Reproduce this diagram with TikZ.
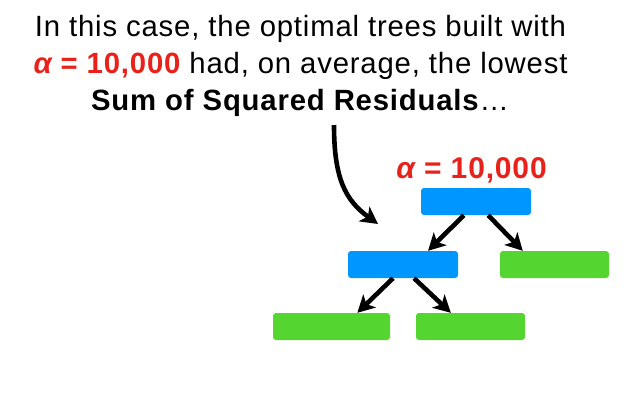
\documentclass[tikz,border=0pt]{standalone}
\usepackage{fontspec}
\setmainfont{Liberation Sans}[LetterSpace=2.8]
\usetikzlibrary{arrows.meta,calc}
\definecolor{myred}{HTML}{E8221A}
\definecolor{myblue}{HTML}{0096FF}
\definecolor{mygreen}{HTML}{55D52F}
\tikzset{
  txt/.style={inner sep=0pt, anchor=base, font=\fontsize{29.3}{32}\selectfont},
  bluebox/.style={fill=myblue, rounded corners=3pt, draw=none, inner sep=0pt, minimum height=27pt},
  greenbox/.style={fill=mygreen, rounded corners=3pt, draw=none, inner sep=0pt, minimum height=27pt},
  arr/.style={line width=4.6pt, -{Stealth[length=17pt,width=18pt,inset=4.5pt]}},
}
\begin{document}
\begin{tikzpicture}[x=1pt,y=-1pt]
\useasboundingbox (0,0) rectangle (639,413);
\node[txt] (l1) at (300.5,36) {In this case, the optimal trees built with};
\node[txt] (l2) at (300.5,73) {\textcolor{myred}{\bfseries\itshape α\upshape{} = 10,000} had, on average, the lowest};
\node[txt] (l3) at (300,110) {\textbf{Sum of Squared Residuals}…};
\node[inner sep=0pt, anchor=base, font=\fontsize{30}{32}\selectfont\bfseries, text=myred] (lab) at (471.5,178) {\itshape α\upshape{} = 10,000};
% boxes
\node[bluebox, minimum width=110pt] (root) at (476,201.5) {};
\node[bluebox, minimum width=110pt] (mid) at (403,264.5) {};
\node[greenbox, minimum width=109pt] (right) at (554.5,264.5) {};
\node[greenbox, minimum width=117pt] (bl) at (331.5,326.5) {};
\node[greenbox, minimum width=109pt] (br) at (470.5,326.5) {};
% arrows
\draw[arr] ($(root.south west)!0.39!(root.south east)$) -- ($(mid.north west)!0.727!(mid.north east)$);
\draw[arr] ($(root.south west)!0.61!(root.south east)$) -- ($(right.north west)!0.21!(right.north east)$);
\draw[arr] ($(mid.south west)!0.41!(mid.south east)$) -- ($(bl.north west)!0.72!(bl.north east)$);
\draw[arr] ($(mid.south west)!0.6!(mid.south east)$) -- ($(br.north west)!0.32!(br.north east)$);
\coordinate (cs) at (334,125);
\coordinate (ce) at (378,224);
\draw[arr] (cs) .. controls (334,178) and (345,200) .. (ce);
\end{tikzpicture}
\end{document}
